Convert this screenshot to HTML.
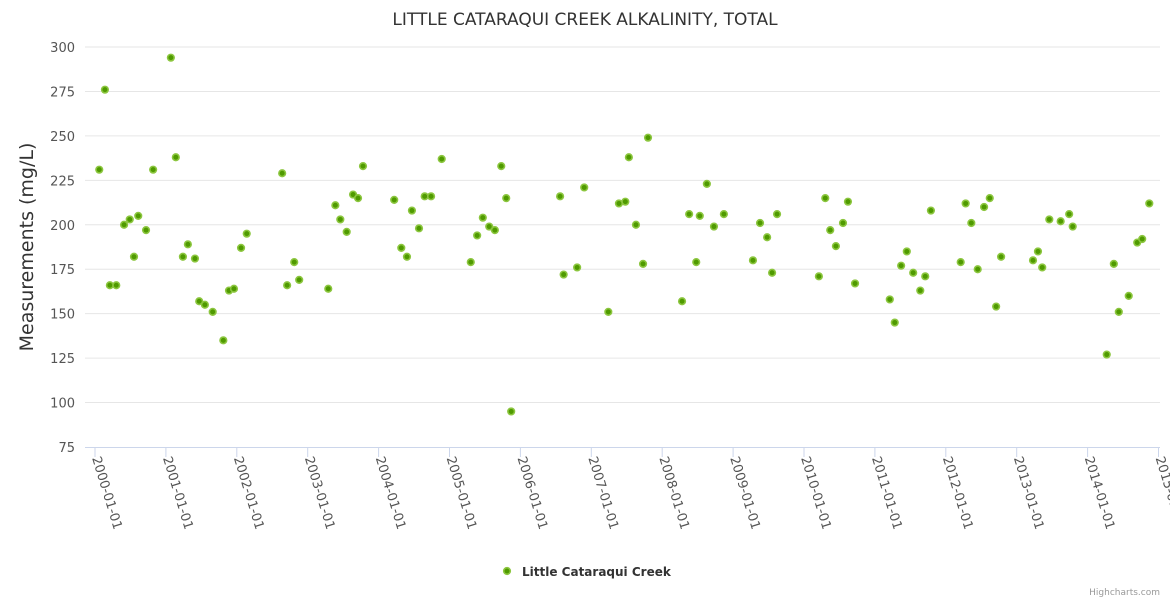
<!DOCTYPE html>
<html><head><meta charset="utf-8"><style>
body{margin:0;background:#fff;}
svg text{font-family:"DejaVu Sans","Liberation Sans",sans-serif;}
</style></head><body>
<svg id="chart" width="1170" height="600" xmlns="http://www.w3.org/2000/svg">
<text x="585" y="25" text-anchor="middle" font-size="17" fill="#333">LITTLE CATARAQUI CREEK ALKALINITY, TOTAL</text>
<text transform="translate(33,247) rotate(-90)" text-anchor="middle" font-size="19" fill="#333">Measurements (mg/L)</text>
<g id="grid"></g><g id="xaxis"></g><g id="points"></g>
<g>
<circle cx="507" cy="571" r="3.3" fill="#4f9a00" stroke="#8cc63f" stroke-width="1.6"/>
<text x="522" y="576" font-size="12" font-weight="bold" fill="#333">Little Cataraqui Creek</text>
</g>
<text x="1160" y="595" text-anchor="end" font-size="9" fill="#999">Highcharts.com</text>
</svg>
<script>
const yTicks=[75,100,125,150,175,200,225,250,275,300];
const xTickYears=[2000,2001,2002,2003,2004,2005,2006,2007,2008,2009,2010,2011,2012,2013,2014,2015];
const dates=[2000.06,2000.14,2000.21,2000.30,2000.41,2000.49,2000.55,2000.61,2000.72,2000.82,2001.07,2001.14,2001.24,2001.31,2001.41,2001.47,2001.55,2001.66,2001.81,2001.89,2001.96,2002.06,2002.14,2002.64,2002.71,2002.81,2002.88,2003.29,2003.39,2003.46,2003.55,2003.64,2003.71,2003.78,2004.22,2004.32,2004.40,2004.47,2004.57,2004.65,2004.74,2004.89,2005.30,2005.39,2005.47,2005.56,2005.64,2005.73,2005.80,2005.87,2006.56,2006.61,2006.80,2006.90,2007.24,2007.39,2007.48,2007.53,2007.63,2007.73,2007.80,2008.28,2008.38,2008.48,2008.53,2008.63,2008.73,2008.87,2009.28,2009.38,2009.48,2009.55,2009.62,2010.21,2010.30,2010.37,2010.45,2010.55,2010.62,2010.72,2011.21,2011.28,2011.37,2011.45,2011.54,2011.64,2011.71,2011.79,2012.21,2012.28,2012.36,2012.45,2012.54,2012.62,2012.71,2012.78,2013.23,2013.30,2013.36,2013.46,2013.62,2013.74,2013.79,2014.27,2014.37,2014.44,2014.58,2014.70,2014.77,2014.87];
const values=[231,276,166,166,200,203,182,205,197,231,294,238,182,189,181,157,155,151,135,163,164,187,195,229,166,179,169,164,211,203,196,217,215,233,214,187,182,208,198,216,216,237,179,194,204,199,197,233,215,95,216,172,176,221,151,212,213,238,200,178,249,157,206,179,205,223,199,206,180,201,193,173,206,171,215,197,188,201,213,167,158,145,177,185,173,163,171,208,179,212,201,175,210,215,154,182,180,185,176,203,202,206,199,127,178,151,160,190,192,212];
const NS="http://www.w3.org/2000/svg";
const X0=95,XW=70.9,Y0=447,YH=400;
function xs(t){return X0+(t-2000)*XW;}
function ys(v){return Y0-(v-75)/225*YH;}
function mk(tag,attrs,parent){const e=document.createElementNS(NS,tag);for(const k in attrs)e.setAttribute(k,attrs[k]);parent.appendChild(e);return e;}
const grid=document.getElementById('grid'),xa=document.getElementById('xaxis'),pts=document.getElementById('points');
yTicks.forEach(v=>{
  if(v>75){const l=mk('line',{x1:85,x2:1160,y1:ys(v),y2:ys(v),stroke:'#e6e6e6','stroke-width':1},grid);
  
  }
  const t=mk('text',{x:75,y:ys(v)+5,'text-anchor':'end','font-size':13,fill:'#555'},grid);
  t.textContent=v;
  
  
});
const ax=mk('line',{x1:85,x2:1160,y1:Y0+0.5,y2:Y0+0.5,stroke:'#ccd6eb','stroke-width':1},xa);


xTickYears.forEach(y=>{
  const x=xs(y);
  const tk=mk('line',{x1:x,x2:x,y1:Y0,y2:Y0+10,stroke:'#ccd6eb'},xa);
  
  
  const t=mk('text',{transform:'translate('+(x-3)+','+(Y0+11)+') rotate(73)','font-size':13,fill:'#555'},xa);
  t.textContent=y+'-01-01';
  
  
});
dates.forEach((d,i)=>{
  const c=mk('circle',{cx:xs(d),cy:ys(values[i]),r:3.3,fill:'#4f9a00',stroke:'#8cc63f','stroke-width':1.6},pts);
  
  
});
</script>
</body></html>
